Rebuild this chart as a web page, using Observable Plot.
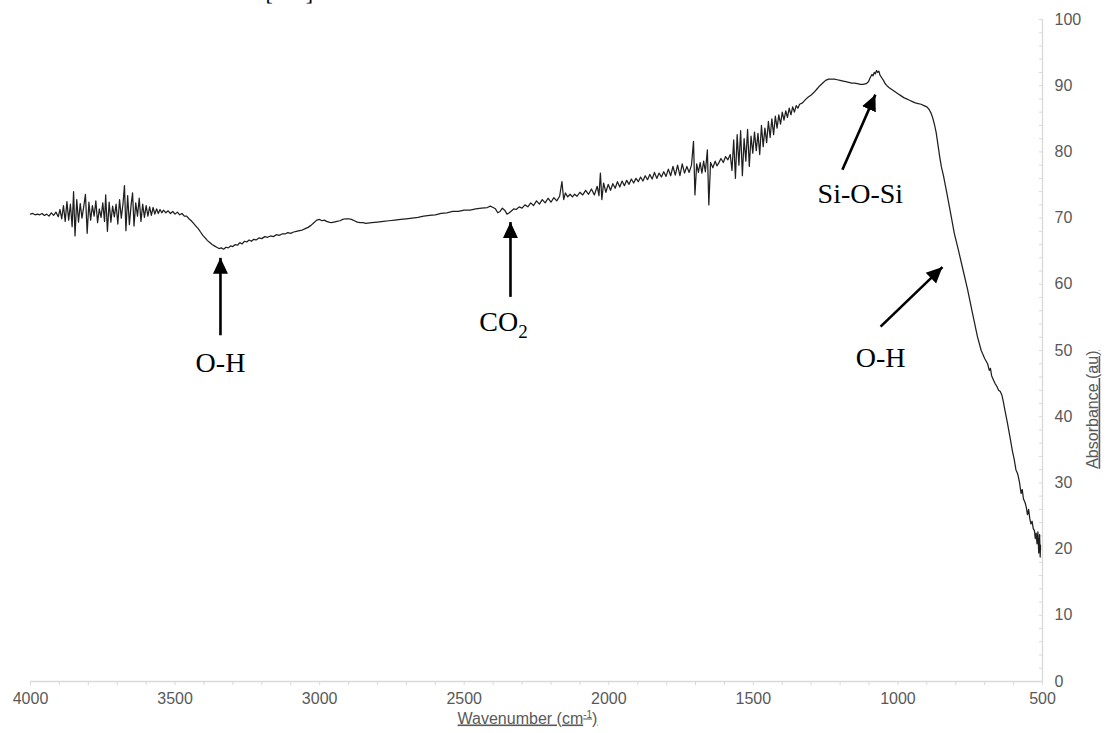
<!DOCTYPE html>
<html>
<head>
<meta charset="utf-8">
<script src="https://cdn.jsdelivr.net/npm/d3@7"></script>
<script src="https://cdn.jsdelivr.net/npm/@observablehq/plot@0.6"></script>
<style>
  html, body { margin: 0; padding: 0; background: #ffffff; }
  #chart { width: 1107px; height: 733px; overflow: hidden; }
</style>
</head>
<body>
<div id="chart"></div>
<script>
// ---- Data ----
// FTIR spectrum: [wavenumber (cm-1), absorbance (au)]
const spectrum = [
  [4000,70.6],[3992,70.7],[3984,70.5],[3976,70.6],[3968,70.5],[3960,70.7],[3952,70.4],[3944,70.6],[3936,70.3],[3928,70.8],
  [3920,70.4],[3912,70.9],[3904,70.2],[3898,71.3],[3892,69.9],[3886,71.9],[3880,69.5],[3874,72.5],[3868,69.7],[3862,72.1],
  [3856,68.7],[3851,74.0],[3846,67.3],[3840,72.8],[3834,69.4],[3828,72.2],[3822,70.0],[3816,71.7],[3810,73.6],[3804,67.7],
  [3798,72.4],[3792,69.7],[3786,71.9],[3780,70.3],[3774,72.6],[3768,69.3],[3762,71.4],[3756,70.1],[3750,72.3],[3744,69.5],
  [3740,73.5],[3734,68.0],[3728,72.4],[3722,69.4],[3716,71.8],[3710,70.2],[3704,72.1],[3698,69.1],[3692,72.8],[3686,70.0],
  [3680,72.2],[3675,74.9],[3670,68.1],[3664,73.4],[3658,69.0],[3652,72.0],[3647,73.8],[3642,68.8],[3636,72.3],[3630,70.3],
  [3624,73.0],[3618,69.5],[3612,72.1],[3606,70.1],[3600,71.9],[3594,70.3],[3588,71.7],[3582,70.4],[3576,71.6],[3570,70.6],
  [3564,71.4],[3558,70.7],[3552,71.3],[3546,70.8],[3540,71.2],[3532,70.8],[3524,71.1],[3516,70.7],[3508,71.0],[3500,70.6],
  [3492,70.9],[3484,70.5],[3476,70.7],[3468,70.3],[3460,70.3],[3452,69.9],[3444,69.6],[3436,69.2],[3428,68.8],[3420,68.4],
  [3412,67.9],[3404,67.4],[3396,67.0],[3388,66.6],[3380,66.3],[3372,66.0],[3364,65.8],[3356,65.6],[3348,65.4],[3340,65.5],
  [3332,65.3],[3324,65.6],[3316,65.5],[3308,65.8],[3300,65.7],[3292,66.0],[3284,65.9],[3276,66.3],[3268,66.1],[3260,66.5],
  [3252,66.4],[3244,66.7],[3236,66.5],[3228,66.8],[3220,66.7],[3210,67.0],[3200,66.9],[3190,67.2],[3180,67.1],[3170,67.3],
  [3160,67.2],[3150,67.5],[3140,67.4],[3130,67.6],[3120,67.6],[3110,67.8],[3100,67.7],[3090,67.9],[3080,68.0],[3070,68.1],
  [3060,68.2],[3050,68.4],[3040,68.6],[3030,68.9],[3020,69.3],[3010,69.7],[3000,69.8],[2992,69.6],[2984,69.7],[2976,69.5],
  [2968,69.4],[2960,69.3],[2950,69.4],[2940,69.5],[2930,69.6],[2920,69.8],[2910,69.9],[2900,69.9],[2890,69.8],[2880,69.6],
  [2870,69.4],[2860,69.3],[2850,69.3],[2840,69.2],[2820,69.3],[2800,69.4],[2780,69.5],[2760,69.6],[2740,69.7],[2720,69.8],
  [2700,69.9],[2680,70.0],[2660,70.1],[2640,70.3],[2620,70.4],[2600,70.5],[2580,70.7],[2560,70.8],[2540,71.0],[2520,71.0],
  [2500,71.2],[2480,71.2],[2460,71.4],[2440,71.5],[2420,71.6],[2410,71.8],[2400,71.6],[2392,71.4],[2384,70.8],[2376,71.0],
  [2368,71.5],[2360,71.2],[2352,70.6],[2344,70.8],[2336,71.1],[2328,71.4],[2320,71.3],[2310,71.7],[2300,71.5],[2290,72.0],
  [2280,71.7],[2270,72.3],[2260,71.9],[2250,72.6],[2240,72.1],[2230,72.8],[2220,72.3],[2210,73.0],[2200,72.4],[2190,73.1],
  [2180,72.6],[2170,73.3],[2162,75.5],[2156,72.8],[2150,73.8],[2142,73.2],[2134,73.6],[2126,73.2],[2118,73.6],[2110,73.3],
  [2100,73.9],[2090,73.5],[2080,74.2],[2070,73.6],[2060,74.4],[2050,73.5],[2040,74.8],[2034,73.4],[2029,76.8],[2024,72.8],
  [2018,75.3],[2010,73.9],[2002,75.1],[1994,74.2],[1986,75.2],[1978,74.5],[1970,75.5],[1962,74.7],[1954,75.6],[1946,74.9],
  [1938,75.7],[1930,75.1],[1922,75.9],[1914,75.3],[1906,76.0],[1898,75.5],[1890,76.2],[1882,75.6],[1874,76.4],[1866,75.8],
  [1858,76.6],[1850,75.9],[1842,76.9],[1834,76.0],[1826,76.8],[1818,76.2],[1810,77.0],[1802,76.3],[1794,77.4],[1786,76.4],
  [1778,77.8],[1770,76.5],[1762,78.0],[1754,76.4],[1746,78.2],[1738,76.8],[1730,77.8],[1722,76.9],[1714,78.0],[1707,81.6],
  [1702,73.5],[1696,78.2],[1690,76.9],[1684,78.4],[1678,76.8],[1672,78.6],[1666,77.0],[1659,80.3],[1654,72.0],[1648,78.4],
  [1640,77.6],[1632,78.6],[1626,77.9],[1620,78.3],[1612,79.0],[1604,78.4],[1596,79.3],[1588,78.8],[1580,79.6],[1574,77.2],
  [1568,81.8],[1562,76.0],[1556,82.6],[1550,78.0],[1544,83.2],[1538,76.4],[1532,82.0],[1526,78.6],[1520,83.4],[1514,77.8],
  [1508,82.4],[1502,79.8],[1496,83.0],[1490,80.2],[1484,82.8],[1478,79.6],[1472,84.0],[1466,80.8],[1460,83.6],[1454,81.4],
  [1448,84.6],[1442,82.2],[1436,85.0],[1430,82.6],[1424,85.4],[1418,83.6],[1412,85.6],[1406,84.2],[1400,86.0],[1394,84.8],
  [1388,86.2],[1382,85.2],[1376,86.6],[1370,85.6],[1364,86.8],[1358,86.0],[1352,87.0],[1346,86.6],[1340,87.2],[1330,87.4],
  [1320,87.9],[1310,88.3],[1300,88.6],[1290,89.0],[1280,89.5],[1270,90.0],[1260,90.4],[1250,90.8],[1240,91.0],[1230,91.0],
  [1220,91.0],[1210,90.9],[1200,90.8],[1190,90.7],[1180,90.6],[1170,90.5],[1160,90.4],[1150,90.4],[1140,90.3],[1130,90.2],
  [1120,90.2],[1110,90.3],[1102,90.6],[1096,91.2],[1090,91.7],[1086,91.5],[1082,92.0],[1078,91.8],[1074,92.3],[1070,92.0],
  [1066,92.2],[1062,91.6],[1056,91.2],[1050,90.8],[1044,90.3],[1038,90.0],[1030,89.7],[1020,89.4],[1010,89.1],[1000,88.8],
  [990,88.5],[980,88.2],[970,88.0],[960,87.8],[950,87.6],[940,87.4],[930,87.3],[920,87.2],[910,87.0],[900,86.8],
  [892,86.4],[886,85.9],[880,85.2],[874,84.2],[868,83.0],[862,81.2],[856,79.4],[850,77.8],[842,76.3],[830,73.6],
  [818,70.8],[805,67.7],[791,65.2],[775,62.2],[759,59.2],[742,55.6],[725,52.1],[712,50.0],[700,48.8],[690,48.0],
  [684,47.0],[680,47.3],[676,46.2],[670,45.6],[664,45.0],[658,44.6],[652,44.0],[646,43.8],[640,43.2],[636,42.4],
  [630,41.0],[621,39.0],[612,36.8],[604,34.8],[598,33.6],[592,32.0],[586,31.4],[580,30.2],[574,28.4],[570,29.0],
  [566,27.6],[560,27.0],[556,26.3],[552,25.2],[548,26.0],[544,24.6],[540,23.8],[536,24.2],[532,23.1],[528,22.8],
  [525,21.6],[522,22.4],[519,20.8],[516,22.6],[513,19.4],[510,22.2],[508,18.8],[507,20.6]
];

// Axis ticks
const xMajorTicks = [4000, 3500, 3000, 2500, 2000, 1500, 1000, 500];
const xMinorTicks = d3.range(500, 4001, 100);
const yMajorTicks = [0, 10, 20, 30, 40, 50, 60, 70, 80, 90, 100];
const yMinorTicks = d3.range(0, 101, 2);

// Band annotations: label, label anchor, arrow tail and arrow tip
const bandLabels = ["O-H", "CO2", "Si-O-Si", "O-H"];
const labelX = [3343, 2364, 1130, 1060];
const labelY = [48.1, 54.3, 73.7, 48.9];
const arrowTailX = [3343, 2340, 1192, 1060];
const arrowTailY = [52.3, 58.1, 77.3, 53.6];
const arrowTipX = [3343, 2340, 1078, 846];
const arrowTipY = [64.0, 69.4, 88.65, 62.6];

const xTitle = "Wavenumber (cm-1)";
const yTitle = "Absorbance (au)";

// ---- Build tables ----
const labels = bandLabels.map((t, i) => ({text: t, x: labelX[i], y: labelY[i]}));
const arrows = bandLabels.map((t, i) => ({x1: arrowTailX[i], y1: arrowTailY[i], x2: arrowTipX[i], y2: arrowTipY[i]}));

// filled triangular arrow head
function filledArrow(color) {
  const ns = "http://www.w3.org/2000/svg";
  const m = document.createElementNS(ns, "marker");
  m.setAttribute("viewBox", "0 -8 16 16");
  m.setAttribute("markerUnits", "userSpaceOnUse");
  m.setAttribute("markerWidth", 16);
  m.setAttribute("markerHeight", 16);
  m.setAttribute("refX", 16);
  m.setAttribute("refY", 0);
  m.setAttribute("orient", "auto");
  const p = document.createElementNS(ns, "path");
  p.setAttribute("d", "M0,-7.5L16,0L0,7.5Z");
  p.setAttribute("fill", color);
  p.setAttribute("stroke", "none");
  m.appendChild(p);
  return m;
}

const axisGray = "#d9d9d9";
const textGray = "#595959";

const chart = Plot.plot({
  width: 1107,
  height: 733,
  marginTop: 19,
  marginBottom: 52,
  marginLeft: 30,
  marginRight: 65,
  x: {domain: [4000, 500]},
  y: {domain: [0, 100]},
  style: {fontFamily: "'Liberation Sans', Arial, sans-serif", fontSize: "16px", color: textGray, background: "#ffffff", overflow: "visible"},
  marks: [
    Plot.ruleY([0], {stroke: axisGray, strokeWidth: 1.3}),
    Plot.ruleX([500], {stroke: axisGray, strokeWidth: 1.3}),
    Plot.axisX({ticks: xMinorTicks, tickSize: 4, tickFormat: () => "", stroke: axisGray, label: null}),
    Plot.axisX({ticks: xMajorTicks, tickSize: 0, tickPadding: 11, tickFormat: d => String(d), fill: textGray, label: null}),
    Plot.axisY({anchor: "right", ticks: yMinorTicks, tickSize: -4, tickFormat: () => "", stroke: axisGray, label: null}),
    Plot.axisY({anchor: "right", ticks: yMajorTicks, tickSize: 0, tickPadding: 12, tickFormat: d => String(d), fill: textGray, label: null}),
    Plot.line(spectrum, {x: d => d[0], y: d => d[1], stroke: "#1f1f1f", strokeWidth: 1.25}),
    Plot.link(arrows, {x1: "x1", y1: "y1", x2: "x2", y2: "y2", stroke: "#000000", strokeWidth: 2.6, markerEnd: filledArrow}),
    Plot.text(labels, {x: "x", y: "y", text: "text", fontFamily: "'Liberation Serif', 'Times New Roman', serif", fontSize: 28, fill: "#000000"}),
    Plot.text([xTitle], {text: d => d, frameAnchor: "bottom", dy: 42, dx: -9, fill: textGray, fontSize: 16}),
    Plot.text([yTitle], {text: d => d, frameAnchor: "right", rotate: -90, dx: 50, fill: textGray, fontSize: 16}),
    Plot.text(["[\u2002\u2002\u2002]"], {text: d => d, frameAnchor: "top-left", dx: 235, dy: -35.6, lineAnchor: "top", textAnchor: "start", fontFamily: "'Liberation Serif', serif", fontSize: 22, fill: "#000000"})
  ]
});

// typographic details: subscript, superscript, underlines
const svg = d3.select(chart.tagName.toLowerCase() === "svg" ? chart : chart.querySelector("svg"));
svg.selectAll("text").each(function() {
  const t = d3.select(this);
  const s = this.textContent;
  if (s === "CO2") {
    t.text("CO");
    t.append("tspan").attr("dy", 7).attr("font-size", 19).text("2");
  } else if (s === xTitle) {
    t.text("Wavenumber (cm");
    t.append("tspan").attr("dy", -6).attr("font-size", 10).text("-1");
    t.append("tspan").attr("dy", 6).text(")");
    t.style("text-decoration", "underline");
  } else if (s === yTitle) {
    t.style("text-decoration", "underline");
  }
});

document.getElementById("chart").appendChild(chart);
</script>
</body>
</html>
